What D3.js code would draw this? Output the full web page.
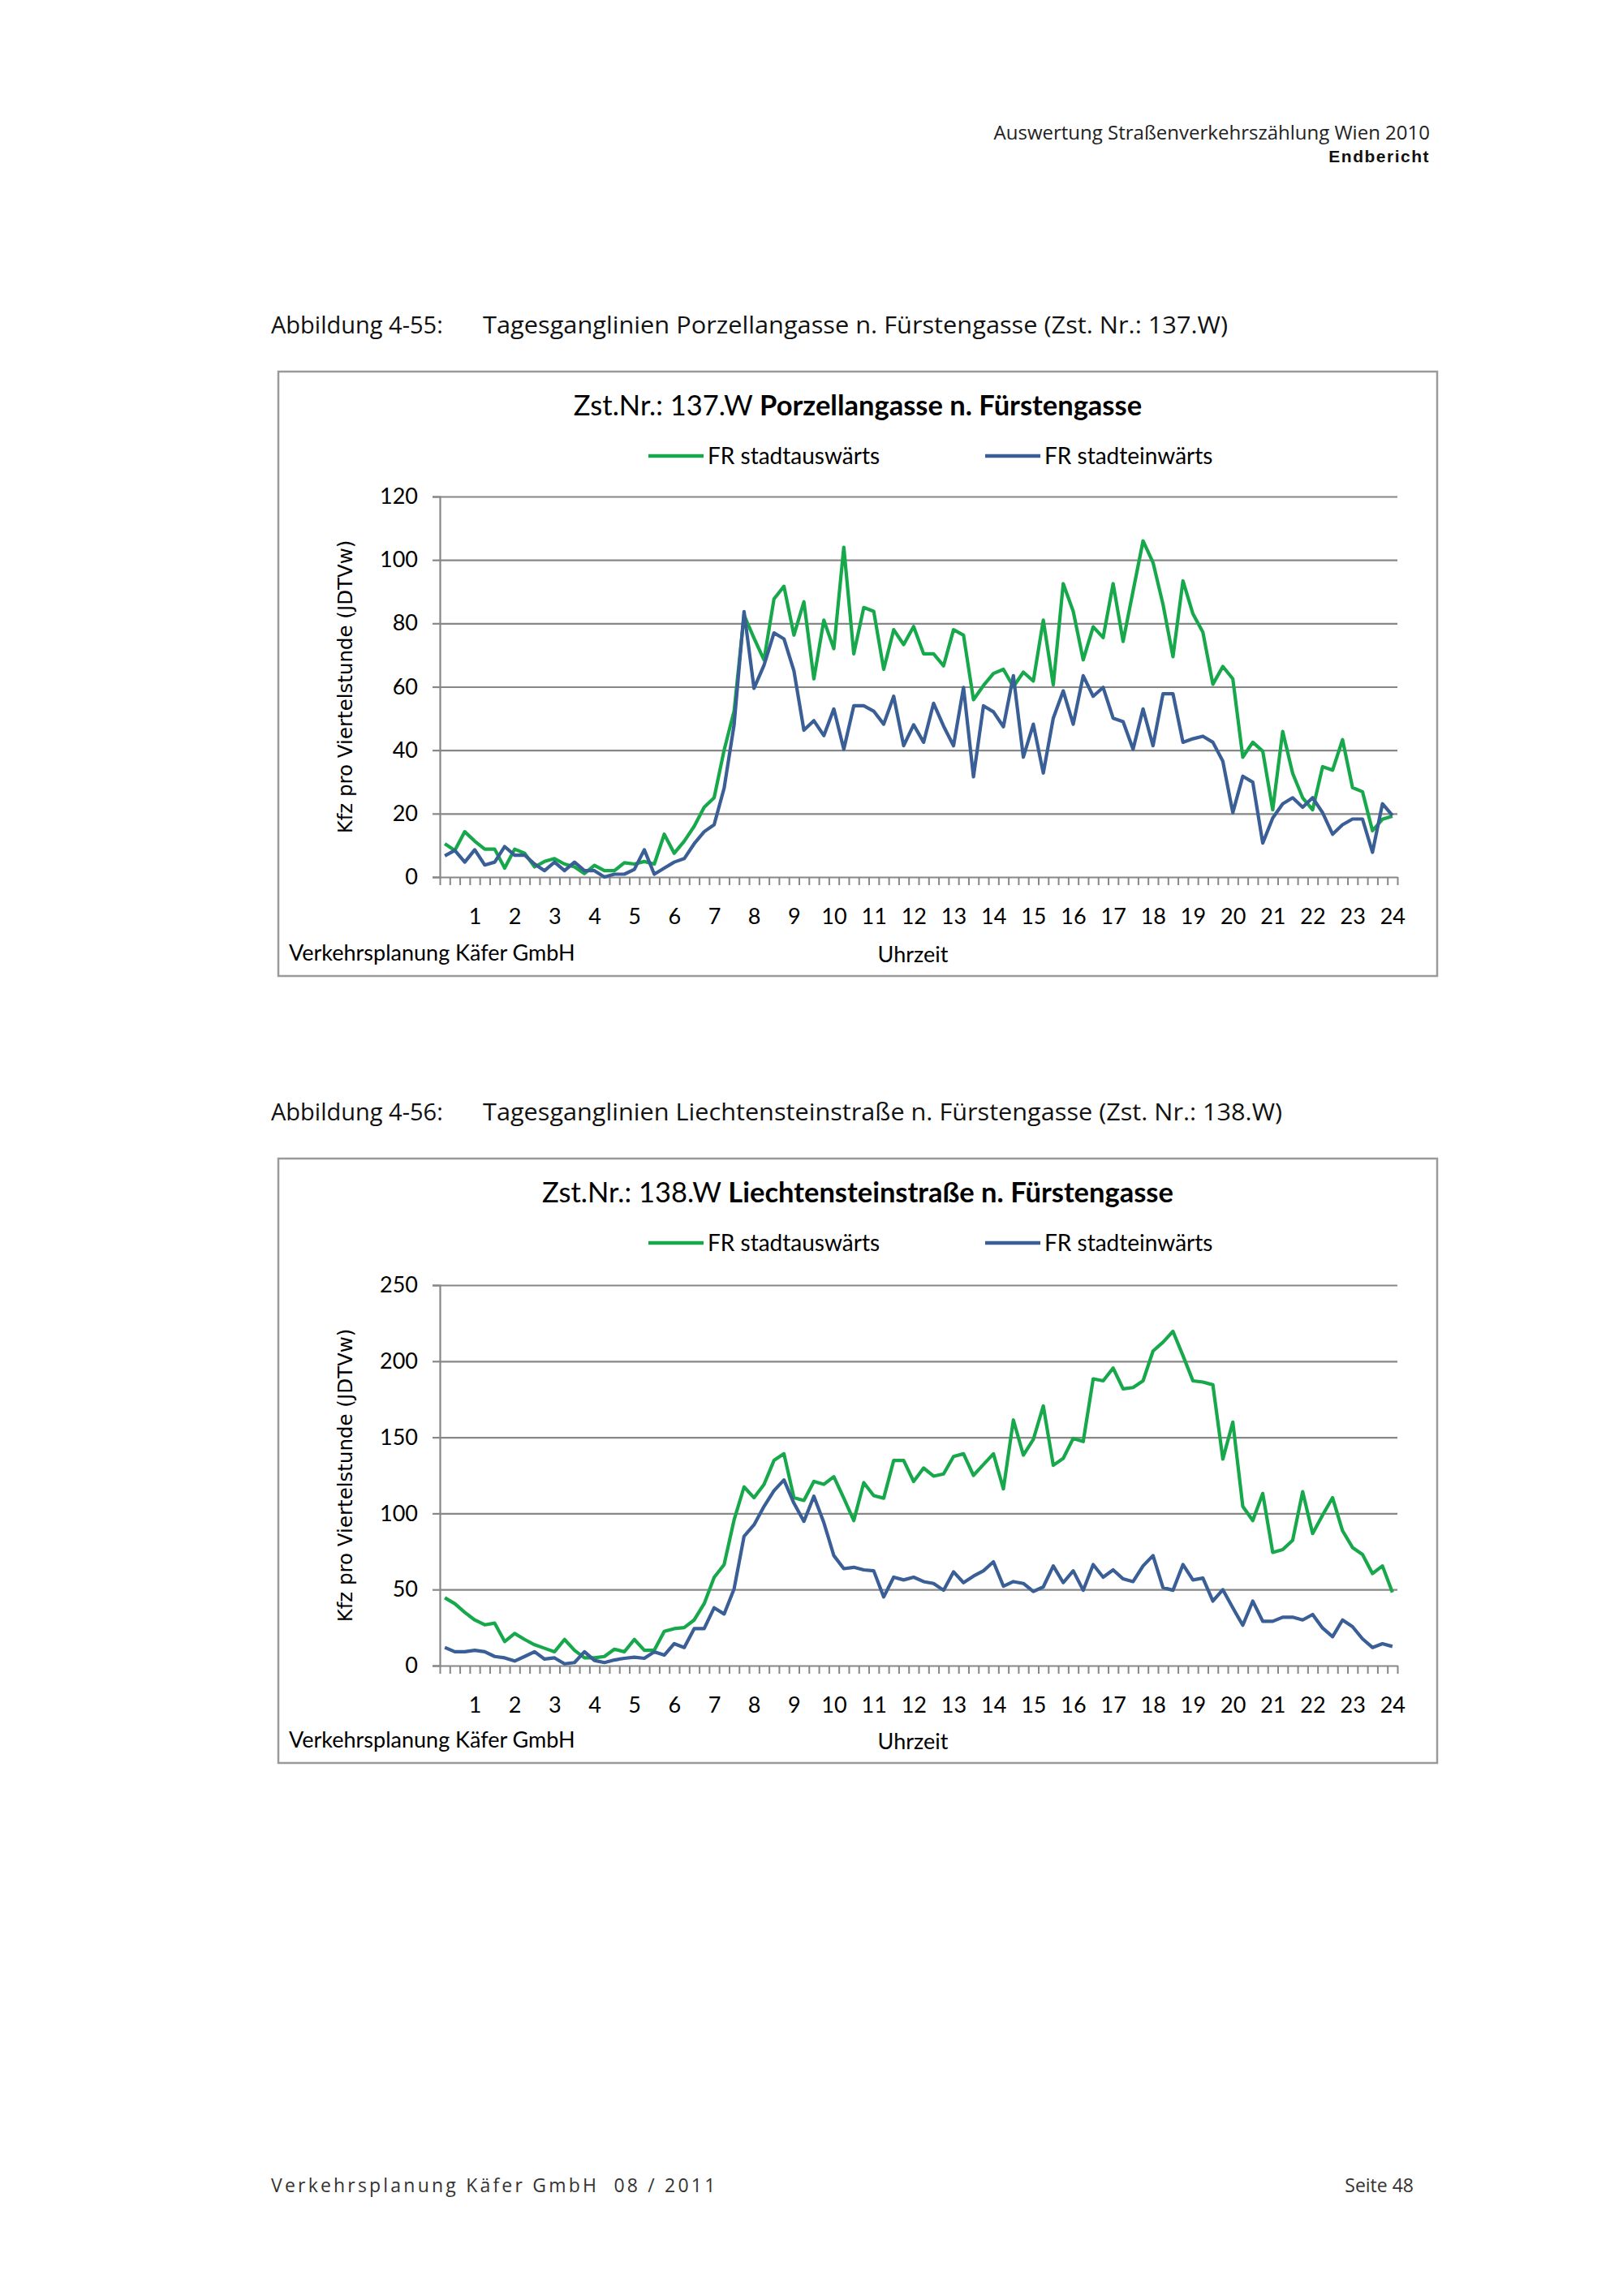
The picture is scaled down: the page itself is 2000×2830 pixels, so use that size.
<!DOCTYPE html>
<html>
<head>
<meta charset="utf-8">
<script src="https://cdn.jsdelivr.net/npm/d3@7"></script>
<style>
  body { margin: 0; background: #fff; }
</style>
</head>
<body>
<script>
/* Tagesganglinien – zwei Zählstellen, Viertelstundenwerte */

var hours = d3.range(1, 25); // Achsenbeschriftung 1..24

// Zst. 137.W Porzellangasse
var aus137 = [10.5, 8.4, 14.3, 11.3, 8.8, 8.8, 2.8, 8.8, 7.5, 3.2, 4.9, 5.8, 4.1, 3.2, 1.1, 3.7,
  2, 2, 4.5, 4.1, 4.9, 4.1, 13.5, 7.5, 11.3, 16, 22, 25, 40, 52.3, 82.6, 75.3,
  68.5, 87.7, 91.7, 76.3, 86.8, 62.5, 81, 72, 104, 70.4, 85, 83.8, 65.5, 78, 73.3, 79,
  70.4, 70.4, 66.6, 78, 76.3, 55.9, 60.4, 64.2, 65.5, 60, 64.6, 61.8, 81, 60.6, 92.5, 83.8,
  68.5, 78.9, 75.5, 92.5, 74.3, 90.2, 106, 99.2, 86, 69.5, 93.4, 83, 77.2, 60.8, 66.4, 62.5,
  37.8, 42.5, 39.7, 21.2, 45.9, 32.7, 25, 21.2, 34.8, 33.7, 43.3, 28.2, 26.9, 14.6, 18.2, 19.2];
var ein137 = [6.7, 8.4, 4.7, 8.6, 3.8, 4.7, 9.6, 6.9, 6.9, 4.1, 2, 4.7, 2, 4.7, 2, 2,
  0, 0.9, 0.9, 2.4, 8.6, 0.9, 2.8, 4.7, 5.8, 10.5, 14.3, 16.5, 28, 48, 83.7, 59.5,
  66.8, 77, 75.1, 65, 46.3, 49.3, 44.6, 53, 40.3, 54, 54, 52.3, 48.2, 57, 41.4, 48,
  42.5, 54.8, 47.6, 41.4, 59.8, 31.6, 54, 52.1, 47.4, 63.5, 37.8, 48.2, 32.8, 50.1, 58.7, 48.2,
  63.5, 57, 59.8, 50.1, 49, 40.3, 53, 41.4, 57.8, 57.8, 42.5, 43.6, 44.4, 42.5, 36.5, 20.3,
  31.8, 29.9, 10.7, 18.6, 23.1, 25, 22, 25, 20.3, 13.5, 16.5, 18.3, 18.3, 7.8, 23.1, 19.4];
var ticks137 = [0, 20, 40, 60, 80, 100, 120];

// Zst. 138.W Liechtensteinstraße
var aus138 = [44.6, 40.7, 35, 30, 26.8, 27.9, 15.8, 21.1, 17.2, 13.7, 11.4, 9.1, 17.2, 10.1, 5.1, 5.1,
  6, 10.8, 9.1, 17.2, 10.1, 10.1, 22.5, 24.3, 25, 30, 40.7, 58, 66.4, 95.7, 117.4, 110.3,
  119, 134.8, 139.2, 110.3, 108.5, 121, 119.1, 124.1, 110, 95.3, 120.2, 111.7, 110, 134.8, 134.8, 121,
  129.8, 124.5, 125.9, 137.4, 139.2, 125, 132.1, 139.2, 116.1, 161.4, 138.3, 148.6, 170.6, 131.6, 136.2, 149.3,
  147.2, 188.4, 187.1, 195.5, 181.8, 182.7, 187.1, 206.7, 212.5, 219.6, 203.7, 187.1, 186.3, 184.5, 135.7, 160,
  104.6, 95.3, 113.1, 74.4, 76.2, 82.4, 114.3, 86.8, 98.9, 110.3, 88.6, 77.6, 73, 60.5, 65.5, 48.1];
var ein138 = [11.9, 9.1, 9.1, 10.1, 9.1, 6, 5.1, 3, 6, 9.1, 4.3, 5.1, 1.2, 2, 9.1, 3.4,
  2, 3.7, 4.8, 5.5, 4.8, 9.1, 6.9, 14.4, 11.9, 24.3, 24.3, 38, 33.9, 50.4, 85, 92.5,
  104.6, 114.9, 122, 106.7, 94.8, 111.3, 93.9, 72.3, 63.7, 64.6, 62.9, 62.3, 45.1, 58.1, 56.3, 58.1,
  55.2, 54, 49.5, 61.6, 54.5, 58.8, 62.3, 68.2, 52.2, 55.2, 54, 48.7, 51.7, 65.5, 54.5, 62.3,
  49.5, 66.4, 58.1, 62.9, 57, 55.2, 65.5, 72.3, 51.3, 49.5, 66.4, 56.3, 57.5, 42.4, 49.9, 38,
  26.5, 42.4, 29.1, 29.1, 31.8, 31.8, 30, 33.6, 24.7, 19, 30, 25.6, 17.6, 11.9, 14.4, 12.6];
var ticks138 = [0, 50, 100, 150, 200, 250];

var seriesNames = ['FR stadtauswärts', 'FR stadteinwärts'];
var seriesColors = ['#17a84b', '#3a5e96'];

var pageFont = '"Open Sans", sans-serif';
var chartFont = 'Lato, sans-serif';

var svg = d3.select('body').append('svg')
  .attr('width', 2000)
  .attr('height', 2830);

svg.append('rect').attr('width', 2000).attr('height', 2830).attr('fill', '#fff');

/* Kopfzeile */
svg.append('text').attr('x', 1762).attr('y', 172).attr('text-anchor', 'end')
  .style('font-family', pageFont).style('font-size', '24px').attr('fill', '#222')
  .text('Auswertung Straßenverkehrszählung Wien 2010');
svg.append('text').attr('x', 1762).attr('y', 200).attr('text-anchor', 'end')
  .style('font-family', '"Liberation Sans", sans-serif').style('font-size', '21px')
  .style('font-weight', 'bold').style('letter-spacing', '1.5px').attr('fill', '#111')
  .text('Endbericht');

/* Fußzeile */
svg.append('text').attr('x', 334).attr('y', 2702)
  .style('font-family', pageFont).style('font-size', '23px').style('letter-spacing', '3.2px')
  .attr('fill', '#333').attr('xml:space', 'preserve')
  .text('Verkehrsplanung Käfer GmbH  08 / 2011');
svg.append('text').attr('x', 1742).attr('y', 2702).attr('text-anchor', 'end')
  .style('font-family', pageFont).style('font-size', '23px').attr('fill', '#333')
  .text('Seite 48');

function caption(y, nr, txt, w) {
  svg.append('text').attr('x', 334).attr('y', y)
    .style('font-family', pageFont).style('font-size', '29px').attr('fill', '#111')
    .text('Abbildung ' + nr + ':');
  svg.append('text').attr('x', 595).attr('y', y)
    .attr('textLength', w).attr('lengthAdjust', 'spacingAndGlyphs')
    .style('font-family', pageFont).style('font-size', '29px').attr('fill', '#111')
    .text(txt);
}

function chart(cfg) {
  var g = svg.append('g');
  var left = 542, right = 1722;
  var top = cfg.boxTop;

  // Rahmen
  g.append('rect')
    .attr('x', 343).attr('y', top)
    .attr('width', 1428).attr('height', 745)
    .attr('fill', '#fff').attr('stroke', '#9a9a9a').attr('stroke-width', 2.5);

  // Titel
  var t = g.append('text').attr('x', 1057).attr('y', top + 54)
    .attr('text-anchor', 'middle')
    .style('font-family', chartFont).style('font-size', '34.5px').attr('fill', '#000');
  t.append('tspan').text(cfg.station + ' ');
  t.append('tspan').style('font-weight', 'bold').text(cfg.street);

  // Legende
  var legX = [799, 1214];
  seriesNames.forEach(function (name, k) {
    var ly = top + 104;
    g.append('line')
      .attr('x1', legX[k]).attr('x2', legX[k] + 68)
      .attr('y1', ly).attr('y2', ly)
      .attr('stroke', seriesColors[k]).attr('stroke-width', 4.5);
    g.append('text').attr('x', legX[k] + 73).attr('y', ly + 10)
      .style('font-family', chartFont).style('font-size', '28px').attr('fill', '#000')
      .text(name);
  });

  var x = d3.scaleBand().domain(d3.range(96)).range([left, right]).padding(0);
  var xt = d3.scaleLinear().domain([0, 96]).range([left, right]);
  var y = d3.scaleLinear().domain([0, d3.max(cfg.ticks)]).range([cfg.zeroY, cfg.topY]);

  // Gitternetz
  g.append('g')
    .attr('transform', 'translate(' + left + ',0)')
    .call(d3.axisLeft(y).tickValues(cfg.ticks.slice(1)).tickSize(-(right - left)).tickFormat(''))
    .call(function (s) {
      s.select('.domain').remove();
      s.selectAll('line').attr('stroke', '#878787').attr('stroke-width', 2.2);
    });

  // y-Achse
  g.append('g')
    .attr('transform', 'translate(' + left + ',0)')
    .call(d3.axisLeft(y).tickValues(cfg.ticks).tickSize(9).tickPadding(18))
    .call(function (s) {
      s.select('.domain').attr('stroke', '#878787').attr('stroke-width', 2.2);
      s.selectAll('line').attr('stroke', '#878787').attr('stroke-width', 2.2);
      s.selectAll('text').style('font-family', chartFont).style('font-size', '27px').attr('fill', '#000');
    });

  // x-Achse: Striche je Viertelstunde
  g.append('g')
    .attr('transform', 'translate(0,' + cfg.zeroY + ')')
    .call(d3.axisBottom(xt).tickValues(d3.range(97)).tickSize(10).tickSizeOuter(0).tickFormat(''))
    .call(function (s) {
      s.select('.domain').attr('stroke', '#878787').attr('stroke-width', 2.2);
      s.selectAll('line').attr('stroke', '#878787').attr('stroke-width', 2);
    });

  // Stundenbeschriftung (unter der letzten Viertelstunde jeder Stunde)
  var xh = d3.scalePoint().domain(hours).range([x(3) + x.bandwidth() / 2, x(95) + x.bandwidth() / 2]);
  g.append('g')
    .attr('transform', 'translate(0,' + cfg.zeroY + ')')
    .call(d3.axisBottom(xh).tickSize(0).tickPadding(39))
    .call(function (s) {
      s.select('.domain').remove();
      s.selectAll('text').style('font-family', chartFont).style('font-size', '27px').attr('fill', '#000');
    });

  // Linien
  var line = d3.line()
    .x(function (d, i) { return x(i) + x.bandwidth() / 2; })
    .y(function (d) { return y(d); });
  [cfg.aus, cfg.ein].forEach(function (data, k) {
    g.append('path').datum(data)
      .attr('d', line)
      .attr('fill', 'none')
      .attr('stroke', seriesColors[k])
      .attr('stroke-width', 4.2)
      .attr('stroke-linejoin', 'round');
  });

  // Achsentitel
  var midY = (cfg.topY + cfg.zeroY) / 2;
  g.append('text')
    .attr('transform', 'translate(434,' + midY + ') rotate(-90)')
    .attr('text-anchor', 'middle')
    .style('font-family', '"DejaVu Sans", sans-serif').style('font-size', '24.5px').attr('fill', '#000')
    .text('Kfz pro Viertelstunde (JDTVw)');
  g.append('text').attr('x', 1125).attr('y', top + 728)
    .attr('text-anchor', 'middle')
    .style('font-family', chartFont).style('font-size', '27px').attr('fill', '#000')
    .text('Uhrzeit');
  g.append('text').attr('x', 356).attr('y', top + 726)
    .style('font-family', chartFont).style('font-size', '27px').attr('fill', '#000')
    .text('Verkehrsplanung Käfer GmbH');
}

caption(411, '4-55', 'Tagesganglinien Porzellangasse n. Fürstengasse (Zst. Nr.: 137.W)', 918);
chart({
  boxTop: 458, topY: 612, zeroY: 1081, ticks: ticks137,
  station: 'Zst.Nr.: 137.W', street: 'Porzellangasse n. Fürstengasse',
  aus: aus137, ein: ein137
});

caption(1381, '4-56', 'Tagesganglinien Liechtensteinstraße n. Fürstengasse (Zst. Nr.: 138.W)', 985);
chart({
  boxTop: 1428, topY: 1584, zeroY: 2053, ticks: ticks138,
  station: 'Zst.Nr.: 138.W', street: 'Liechtensteinstraße n. Fürstengasse',
  aus: aus138, ein: ein138
});
</script>
</body>
</html>
